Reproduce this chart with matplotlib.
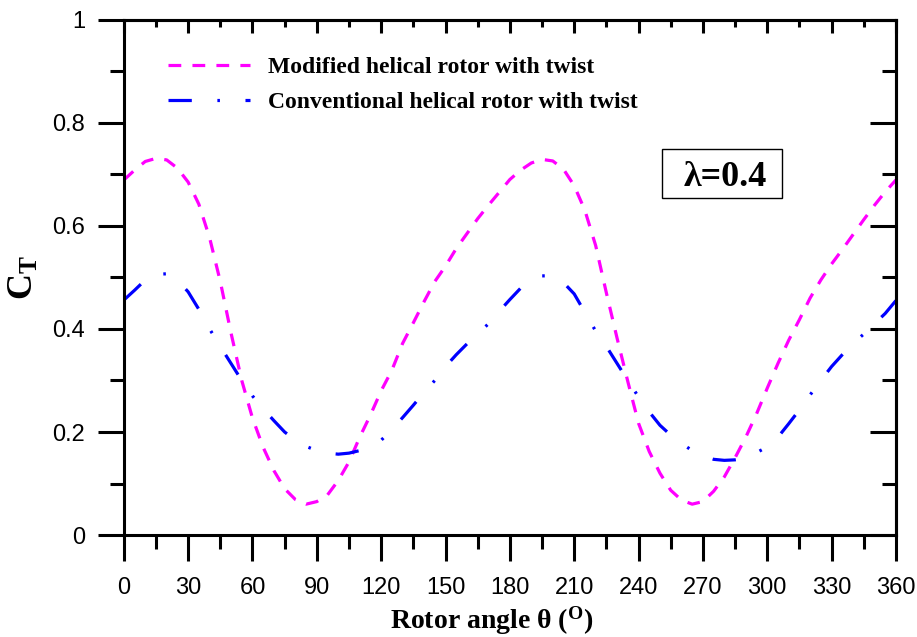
import numpy as np
import matplotlib
matplotlib.use("Agg")
from matplotlib import pyplot as plt
from matplotlib.patches import Rectangle
from matplotlib.ticker import MultipleLocator

plt.rcParams['font.family'] = ['Liberation Sans', 'DejaVu Sans']
plt.rcParams['mathtext.fontset'] = 'custom'
plt.rcParams['mathtext.rm'] = 'Liberation Serif:bold'
plt.rcParams['mathtext.bf'] = 'Liberation Serif:bold'
plt.rcParams['mathtext.it'] = 'Liberation Serif:bold'

# rotor angle (deg)
angle = list(range(0, 361, 5))

# modified helical rotor with twist
ct_modified = [0.689, 0.708, 0.725, 0.731, 0.728, 0.712, 0.685, 0.642, 0.577, 0.492,
               0.392, 0.300, 0.227, 0.170, 0.125, 0.090, 0.069, 0.060, 0.065, 0.078,
               0.106, 0.142, 0.190, 0.233, 0.280, 0.320, 0.372, 0.412, 0.453, 0.492,
               0.522, 0.556, 0.585, 0.614, 0.640, 0.665, 0.690, 0.708, 0.722, 0.729,
               0.726, 0.710, 0.678, 0.630, 0.562, 0.470, 0.382, 0.298, 0.217, 0.162,
               0.120, 0.087, 0.068, 0.060, 0.065, 0.085, 0.113, 0.150, 0.190, 0.235,
               0.285, 0.333, 0.378, 0.418, 0.460, 0.495, 0.526, 0.554, 0.583, 0.612,
               0.640, 0.666, 0.689]

# conventional helical rotor with twist
ct_conventional = [0.456, 0.475, 0.495, 0.506, 0.507, 0.495, 0.472, 0.438, 0.400, 0.366,
                   0.333, 0.300, 0.270, 0.245, 0.222, 0.200, 0.184, 0.172, 0.164, 0.159,
                   0.157, 0.159, 0.164, 0.173, 0.184, 0.205, 0.228, 0.252, 0.277, 0.300,
                   0.327, 0.350, 0.371, 0.390, 0.410, 0.434, 0.457, 0.479, 0.494, 0.503,
                   0.503, 0.490, 0.468, 0.432, 0.396, 0.366, 0.333, 0.300, 0.268, 0.239,
                   0.213, 0.194, 0.178, 0.164, 0.154, 0.147, 0.145, 0.146, 0.149, 0.160,
                   0.171, 0.190, 0.216, 0.243, 0.272, 0.300, 0.327, 0.350, 0.372, 0.390,
                   0.410, 0.430, 0.455]

labels = ["Modified helical rotor with twist", "Conventional helical rotor with twist"]
yticks = [0, 0.2, 0.4, 0.6, 0.8, 1.0]
ytick_labels = ["0", "0.2", "0.4", "0.6", "0.8", "1"]

fig = plt.figure(figsize=(9.17, 6.37), dpi=100)
ax = fig.add_axes([0.135, 0.160, 0.842, 0.809])

ax.plot(angle, ct_modified, color="#FF00FF", lw=2.3, dashes=(4, 3.5), label=labels[0])
ax.plot(angle, ct_conventional, color="#0000FF", lw=2.3,
        dashes=(7.3, 8.0, 0.8, 8.0), label=labels[1])

ax.set_xlim(0, 360)
ax.set_ylim(0, 1)
ax.xaxis.set_major_locator(MultipleLocator(30))
ax.xaxis.set_minor_locator(MultipleLocator(15))
ax.set_yticks(yticks)
ax.set_yticklabels(ytick_labels)
ax.yaxis.set_minor_locator(MultipleLocator(0.1))

for s in ax.spines.values():
    s.set_linewidth(2.2)

ax.tick_params(which='both', direction='out', width=2.2, labelsize=17, top=False, right=False)
ax.tick_params(which='major', length=19)
ax.tick_params(which='minor', length=10)
ax.tick_params(axis='x', which='major', pad=11)
ax.tick_params(axis='y', which='major', pad=9)

# top ticks (short, inward)
top = ax.secondary_xaxis('top')
top.xaxis.set_major_locator(MultipleLocator(30))
top.xaxis.set_minor_locator(MultipleLocator(15))
top.tick_params(which='both', direction='in', width=2.2, labeltop=False)
top.tick_params(which='major', length=9.5)
top.tick_params(which='minor', length=5)
top.spines['top'].set_linewidth(2.2)

# right ticks (long, inward)
right = ax.secondary_yaxis('right')
right.set_yticks(yticks)
right.yaxis.set_minor_locator(MultipleLocator(0.1))
right.tick_params(which='both', direction='in', width=2.2, labelright=False)
right.tick_params(which='major', length=19)
right.tick_params(which='minor', length=10)
right.spines['right'].set_linewidth(2.2)

ax.set_xlabel(r"Rotor angle θ ($\mathrm{^O}$)", family='Liberation Serif',
              weight='bold', fontsize=20, labelpad=4)
ax.xaxis.label.set_x(0.477)
ax.set_ylabel(r"$\mathbf{C_T}$", fontsize=26, labelpad=8)

leg = ax.legend(loc='upper left', bbox_to_anchor=(0.057, 0.928), frameon=False,
                prop={'family': 'Liberation Serif', 'weight': 'bold', 'size': 17},
                handlelength=3.5, handletextpad=0.75, labelspacing=0.56,
                borderpad=0, borderaxespad=0)

# lambda annotation box
ax.add_patch(Rectangle((0.697, 0.654), 0.155, 0.096, transform=ax.transAxes,
                       fill=False, ec='black', lw=1))
ax.text(280.5, 0.678, "λ=0.4", family='Liberation Serif', weight='bold', fontsize=26,
        ha='center', va='baseline')

fig.savefig("out.png", dpi=100)
